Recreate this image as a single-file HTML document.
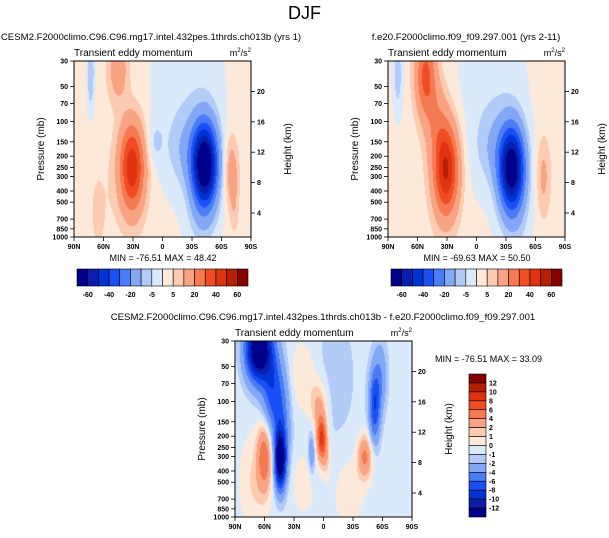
<!DOCTYPE html>
<html><head><meta charset="utf-8">
<style>
body{margin:0;background:#fff;width:609px;height:538px;overflow:hidden;position:relative;font-family:"Liberation Sans",sans-serif;color:#000}
.t{position:absolute;white-space:nowrap}
canvas{position:absolute}
</style></head>
<body>
<div class="t" style="left:0;width:609px;text-align:center;top:3px;font-size:18px">DJF</div>
<svg id="svg" width="609" height="538" style="position:absolute;left:0;top:0"></svg>
<script>
// ---- data ----
const pressureTicks=[30,50,70,100,150,200,250,300,400,500,700,850,1000];
const heightTicks=[4,8,12,16,20];
const latTicks=['90N','60N','30N','0','30S','60S','90S'];
const levelsFull=[-60,-50,-40,-30,-20,-10,-5,0,5,10,20,30,40,50,60];
const levelsDiff=[-12,-10,-8,-6,-4,-2,-1,0,1,2,4,6,8,10,12];
const cbLabelsFull=['-60','-40','-20','-5','5','20','40','60'];
const cbLabelsDiff=['12','10','8','6','4','2','1','0','-1','-2','-4','-6','-8','-10','-12'];
const palette=['#00008a','#0a1eab','#0033d6','#1a4ff5','#4a7cf5','#82a8f5','#b2cbf7','#dbeafb','#fde9da','#fccbb2','#f8a483','#f57a52','#f24c22','#df3410','#b52000','#870000'];
// blobs: [lat center (deg, +N), pressure (mb), lat sigma (deg), logp sigma, amplitude]
const blobs1=[[31,250,9,0.62,46],[-43,240,9,0.58,-76],[-25,180,14,0.5,-8],[-70,270,5,0.5,14],[-73,550,3,0.4,5],[73,38,3,0.6,-12],[45,35,7,0.45,14],[-25,60,30,1.6,-6],[8,150,6,0.3,-6],[65,600,10,1.0,3],[-40,800,12,0.5,-5]];
const base1=[2.5];
const blobs2=[[31,260,9,0.65,50],[52,40,7,0.55,30],[42,90,8,0.6,12],[-36,260,9,0.58,-70],[-20,170,14,0.5,-8],[-68,300,5,0.55,10],[80,40,4,0.6,-10],[-15,60,28,1.6,-6],[-40,800,12,0.5,-5]];
const base2=[2.5];
const blobs3=[[66,35,9,0.45,-16],[52,80,7,0.6,-6],[44,320,4,0.4,-14],[42,150,6,0.7,-4],[60,300,5,0.45,6],[2,210,3.5,0.3,9],[5,110,6,0.35,3],[-3,300,3,0.3,2],[-42,300,5,0.3,5],[-52,110,4,0.5,-7],[-58,60,5,0.5,-3],[12,280,2.5,0.3,-3],[20,60,10,0.5,1.5],[-10,60,20,1.2,-1],[70,500,10,0.6,1.5],[-25,600,10,0.5,1.2],[20,500,8,0.4,1.2]];
const base3=[-0.4];
// ---- drawing ----
const svg=document.getElementById('svg');
const NS='http://www.w3.org/2000/svg';
function el(tag,attrs,txt){const e=document.createElementNS(NS,tag);for(const k in attrs)e.setAttribute(k,attrs[k]);if(txt!==undefined)e.textContent=txt;svg.appendChild(e);return e;}
function levelIndex(v,lv){let i=0;while(i<lv.length&&v>=lv[i])i++;return i;}
function hex(c){return [parseInt(c.substr(1,2),16),parseInt(c.substr(3,2),16),parseInt(c.substr(5,2),16)];}
const rgb=palette.map(hex);
function plot(px,py,W,H,blobs,base,levels,name){
  const lnTop=Math.log(30),lnBot=Math.log(1000);
  const yOf=p=>py+(Math.log(p)-lnTop)/(lnBot-lnTop)*H;
  const cv=document.createElement('canvas');cv.width=W;cv.height=H;cv.style.left=px+'px';cv.style.top=py+'px';
  
  
  document.body.insertBefore(cv,svg);
  const ctx=cv.getContext('2d');const img=ctx.createImageData(W,H);
  for(let j=0;j<H;j++){const lp=lnTop+(j+0.5)/H*(lnBot-lnTop);
    for(let i=0;i<W;i++){const lat=90-(i+0.5)/W*180;
      let v=base[0];
      for(const b of blobs){const dx=(lat-b[0])/b[2],dy=(lp-Math.log(b[1]))/b[3];v+=b[4]*Math.exp(-0.5*(dx*dx+dy*dy));}
      const c=rgb[levelIndex(v,levels)];const k=(j*W+i)*4;img.data[k]=c[0];img.data[k+1]=c[1];img.data[k+2]=c[2];img.data[k+3]=255;}}
  ctx.putImageData(img,0,0);
  const fr=el('rect',{x:px,y:py,width:W,height:H,fill:'none',stroke:'#000','stroke-width':1});
  
  
  pressureTicks.forEach(p=>{const y=yOf(p);
    el('line',{x1:px-4,x2:px,y1:y,y2:y,stroke:'#000','stroke-width':0.8});
    const t=el('text',{x:px-6,y:y+2.5,'font-size':7,'text-anchor':'end','font-weight':'bold'},p);
    
    });
  heightTicks.forEach(h=>{const yy=py+152-(h-4)*7.6;
    el('line',{x1:px+W,x2:px+W+4,y1:yy,y2:yy,stroke:'#000','stroke-width':0.8});
    const t=el('text',{x:px+W+6,y:yy+2.5,'font-size':7,'font-weight':'bold'},h);
    
    });
  latTicks.forEach((l,i)=>{const x=px+i*W/6;
    el('line',{x1:x,x2:x,y1:py+H,y2:py+H+4,stroke:'#000','stroke-width':0.8});
    const t=el('text',{x:x,y:py+H+12,'font-size':7,'text-anchor':'middle','font-weight':'bold'},l);
    
    });
  const ya=el('text',{x:0,y:0,'font-size':10,'text-anchor':'middle',transform:`translate(${px-30},${py+H/2}) rotate(-90)`},'Pressure (mb)');
  
  
  const yb=el('text',{x:0,y:0,'font-size':10,'text-anchor':'middle',transform:`translate(${px+W+40},${py+H/2}) rotate(-90)`},'Height (km)');
  
  
  const st=el('text',{x:px,y:py-5,'font-size':10},'Transient eddy momentum');
  
  
  const un=el('text',{x:px+W,y:py-5,'font-size':9,'text-anchor':'end'});
  
  
  un.innerHTML='m<tspan dy="-4" font-size="6">2</tspan><tspan dy="4">/s</tspan><tspan dy="-4" font-size="6">2</tspan>';
}
function hbar(x,y,w,h,labels,name){
  const n=palette.length,bw=w/n;
  palette.forEach((c,i)=>{const r=el('rect',{x:x+i*bw,y:y,width:bw,height:h,fill:c,stroke:'#000','stroke-width':0.6});
    
    });
  labels.forEach((l,i)=>{const t=el('text',{x:x+(2*i+1)*bw,y:y+h+11,'font-size':7,'text-anchor':'middle','font-weight':'bold'},l);
    
    });
}
function vbar(x,y,w,h,labels,name){
  const n=palette.length,bh=h/n;
  palette.slice().reverse().forEach((c,i)=>{const r=el('rect',{x:x,y:y+i*bh,width:w,height:bh,fill:c,stroke:'#000','stroke-width':0.6});
    
    });
  labels.forEach((l,i)=>{const t=el('text',{x:x+w+3,y:y+(i+1)*bh+2.5,'font-size':7,'font-weight':'bold'},l);
    
    });
}
function txt(x,y,s,size,anchor,name){const t=el('text',{x:x,y:y,'font-size':size,'text-anchor':anchor||'middle'},s);
  
  }

plot(74,61,177,176,blobs1,base1,levelsFull,'test-panel');
plot(388,61,177,176,blobs2,base2,levelsFull,'control-panel');
plot(235,341,177,176,blobs3,base3,levelsDiff,'diff-panel');
hbar(77,269,171,17,cbLabelsFull,'test-colorbar');
hbar(391,269,171,17,cbLabelsFull,'control-colorbar');
vbar(469,374,17,143,cbLabelsDiff,'diff-colorbar');
txt(151,40,'CESM2.F2000climo.C96.C96.mg17.intel.432pes.1thrds.ch013b (yrs 1)',9.6,'middle','test-title');
txt(466,40,'f.e20.F2000climo.f09_f09.297.001 (yrs 2-11)',9.6,'middle','control-title');
txt(323,320,'CESM2.F2000climo.C96.C96.mg17.intel.432pes.1thrds.ch013b - f.e20.F2000climo.f09_f09.297.001',9.6,'middle','diff-title');
txt(163,261,'MIN = -76.51  MAX =  48.42',9,'middle','test-minmax');
txt(477,261,'MIN = -69.63  MAX =  50.50',9,'middle','control-minmax');
txt(435,362,'MIN = -76.51  MAX =  33.09',9,'start','diff-minmax');
</script>
</body></html>
